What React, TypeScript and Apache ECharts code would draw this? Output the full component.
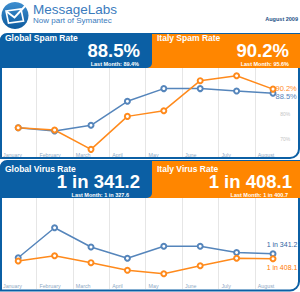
import React, { useEffect, useRef } from "react";
import * as echarts from "echarts";

const months = ["January", "February", "March", "April", "May", "June", "July", "August"];
const spamGlobal = [74.6, 73.3, 75.6, 85.3, 90.4, 90.4, 89.4, 88.5];
const spamItaly = [74.6, 73.7, 65.9, 79.2, 81.5, 93.6, 95.6, 90.2];
const virusGlobalOneIn = [392, 185, 280, 400, 275, 275, 327.6, 341.2];
const virusItalyOneIn = [446, 365, 481, 741, 971, 559, 400.7, 408.1];
const spamTickLabels = [70, 80];
const reportMonth = "August 2009";

const BLUE = "#0b5fa4";
const ORANGE = "#ff8600";
const LINE_BLUE = "#5585bb";
const LINE_ORANGE = "#ff8a1c";
const FONT = '"Liberation Sans", Arial, sans-serif';

const pct = (v: number) => v.toFixed(1) + "%";
const oneIn = (v: number) => "1 in " + v.toFixed(1);
const toRate = (x: number) => 100 / x;

function lastLabel(arr: any[], label: any) {
  return arr.map((v, i) => (i === arr.length - 1 ? { value: v, label: { show: true, ...label } } : v));
}

function header(y: number, h: number, lt: string, lv: string, llm: string, rt: string, rv: string, rlm: string, lvx: number, llmx: number, rvx: number, rlmx: number, lmY: number, bigY: number, titleY: number) {
  return [
    { type: "rect", z: 100, shape: { x: 146, y, width: 154, height: h }, style: { fill: ORANGE } },
    { type: "rect", z: 101, shape: { x: 0, y, width: 152, height: h, r: [6, 0, 5, 0] }, style: { fill: BLUE } },
    { type: "text", z: 102, style: { text: lt, x: 5, y: titleY, fill: "#fff", fontSize: 8.5, fontWeight: "bold", fontFamily: FONT, verticalAlign: "middle" } },
    { type: "text", z: 102, style: { text: lv, x: lvx, y: bigY, fill: "#fff", fontSize: 18.5, fontWeight: "bold", fontFamily: FONT, align: "right", verticalAlign: "middle" } },
    { type: "text", z: 102, style: { text: llm, x: llmx, y: lmY, fill: "#fff", fontSize: 5.5, fontWeight: "bold", fontFamily: FONT, align: "right", verticalAlign: "middle" } },
    { type: "text", z: 102, style: { text: rt, x: 157, y: titleY, fill: "#fff", fontSize: 8.5, fontWeight: "bold", fontFamily: FONT, verticalAlign: "middle" } },
    { type: "text", z: 102, style: { text: rv, x: rvx, y: bigY, fill: "#fff", fontSize: 18.5, fontWeight: "bold", fontFamily: FONT, align: "right", verticalAlign: "middle" } },
    { type: "text", z: 102, style: { text: rlm, x: rlmx, y: lmY, fill: "#fff", fontSize: 5.5, fontWeight: "bold", fontFamily: FONT, align: "right", verticalAlign: "middle" } },
  ];
}

export default function App() {
  const ref = useRef<HTMLDivElement>(null);
  useEffect(() => {
    if (!ref.current) return;
    const chart = echarts.init(ref.current, null, { renderer: "svg" });
    const n = months.length;
    const monthsPlus = [...months, ""];
    const bgX = (gridIndex: number) => ({
      type: "category",
      gridIndex,
      data: monthsPlus,
      boundaryGap: false,
      axisLine: { show: false },
      axisTick: { show: false },
      axisLabel: { inside: true, margin: 1, interval: 0, align: "left", padding: [0, 0, 0, 3], fontSize: 5.3, color: "#8fa9c4", fontFamily: FONT },
      splitLine: { show: true, interval: (i: number) => i > 0 && i < n, lineStyle: { color: "#e6e6e6", width: 1 } },
    });
    const dataX = (gridIndex: number) => ({ type: "category", gridIndex, data: months, boundaryGap: true, show: false });
    const seriesBase = (color: string) => ({
      type: "line",
      symbol: "emptyCircle",
      symbolSize: 5,
      color,
      lineStyle: { color, width: 1.5 },
      itemStyle: { color, borderWidth: 1 },
      z: 5,
    });
    const spamLabel = (color: string, dy: number) => ({ position: "right", distance: -1, offset: [0, dy], color, fontSize: 7.5, fontFamily: FONT, formatter: (p: any) => pct(p.value) });
    const virusRates = (arr: number[]) => arr.map(toRate);

    chart.setOption({
      animation: false,
      grid: [
        { left: 0, top: 64.8, width: 291.2, height: 86.8 },
        { left: 0, top: 68, width: 291.2, height: 90 },
        { left: 0, top: 200.5, width: 291.2, height: 84 },
        { left: 0, top: 198, width: 291.2, height: 91 },
      ],
      xAxis: [dataX(0), bgX(1), dataX(2), bgX(3)],
      yAxis: [
        {
          type: "value", gridIndex: 0, min: 65, max: 100, interval: 5, position: "right",
          axisLine: { show: false }, axisTick: { show: false }, splitLine: { show: false },
          axisLabel: { inside: true, margin: 1, fontSize: 5, color: "#c4c4c4", fontFamily: FONT, formatter: (v: number) => (spamTickLabels.includes(v) ? v + "%" : "") },
        },
        { type: "value", gridIndex: 1, min: 0, max: 1, show: false },
        { type: "value", gridIndex: 2, min: 0, max: 0.8, show: false },
        { type: "value", gridIndex: 3, min: 0, max: 1, show: false },
      ],
      series: [
        { ...seriesBase(LINE_BLUE), name: "Global Spam Rate", xAxisIndex: 0, yAxisIndex: 0, data: lastLabel(spamGlobal, spamLabel(LINE_BLUE, 3)) },
        { ...seriesBase(LINE_ORANGE), name: "Italy Spam Rate", xAxisIndex: 0, yAxisIndex: 0, data: lastLabel(spamItaly, spamLabel(LINE_ORANGE, -0.5)) },
        {
          ...seriesBase(LINE_BLUE), name: "Global Virus Rate", xAxisIndex: 2, yAxisIndex: 2,
          data: lastLabel(virusRates(virusGlobalOneIn), { position: "top", distance: 2, offset: [9, 0], color: "#2f65a3", fontSize: 7, fontFamily: FONT, formatter: (p: any) => oneIn(100 / p.value) }),
        },
        {
          ...seriesBase(LINE_ORANGE), name: "Italy Virus Rate", xAxisIndex: 2, yAxisIndex: 2,
          data: lastLabel(virusRates(virusItalyOneIn), { position: "bottom", distance: 2, offset: [9, 0], color: "#ff7a00", fontSize: 7, fontFamily: FONT, formatter: (p: any) => oneIn(100 / p.value) }),
        },
      ],
      graphic: [
        {
          type: "circle", z: 100, shape: { cx: 15, cy: 15.5, r: 13.5 },
          style: { fill: new echarts.graphic.LinearGradient(0, 0, 0, 1, [{ offset: 0, color: "#3f8fd0" }, { offset: 1, color: "#0d5a9e" }]) },
        },
        { type: "polygon", z: 101, shape: { points: [[6, 11], [21, 9], [23.5, 21], [8.5, 23]] }, style: { fill: "none", stroke: "#fff", lineWidth: 1.6 } },
        { type: "polyline", z: 102, shape: { points: [[6.5, 11.5], [14.5, 17.5], [27, 4]] }, style: { fill: "none", stroke: "#fff", lineWidth: 2 } },
        { type: "text", z: 100, style: { text: "MessageLabs", x: 33, y: 9, fill: "#3a7bbd", fontSize: 13.5, fontFamily: FONT, verticalAlign: "middle" } },
        { type: "text", z: 100, style: { text: "Now part of Symantec", x: 33, y: 20.5, fill: "#3a7bbd", fontSize: 8, fontFamily: FONT, verticalAlign: "middle" } },
        { type: "text", z: 100, style: { text: reportMonth, x: 298, y: 19, fill: "#1d4f86", fontSize: 5.5, fontWeight: "bold", fontFamily: FONT, align: "right", verticalAlign: "middle" } },
        { type: "rect", z: 99, shape: { x: 1, y: 34, width: 298, height: 124, r: [6, 0, 9, 0] }, style: { fill: "none", stroke: BLUE, lineWidth: 2 } },
        { type: "rect", z: 99, shape: { x: 1, y: 161, width: 298, height: 129.5, r: [6, 0, 9, 0] }, style: { fill: "none", stroke: BLUE, lineWidth: 2 } },
        ...header(34, 34, "Global Spam Rate", pct(spamGlobal[n - 1]), "Last Month: " + pct(spamGlobal[n - 2]),
          "Italy Spam Rate", pct(spamItaly[n - 1]), "Last Month: " + pct(spamItaly[n - 2]), 140, 139, 289, 289, 64, 50, 38.3),
        ...header(161, 37, "Global Virus Rate", oneIn(virusGlobalOneIn[n - 1]), "Last Month: " + oneIn(virusGlobalOneIn[n - 2]),
          "Italy Virus Rate", oneIn(virusItalyOneIn[n - 1]), "Last Month: " + oneIn(virusItalyOneIn[n - 2]), 140, 129, 292, 288, 195, 181.5, 169),
      ],
    });
    return () => chart.dispose();
  }, []);
  return <div ref={ref} style={{ position: "absolute", left: 0, top: 0, width: 300, height: 292, background: "#fff" }} />;
}
